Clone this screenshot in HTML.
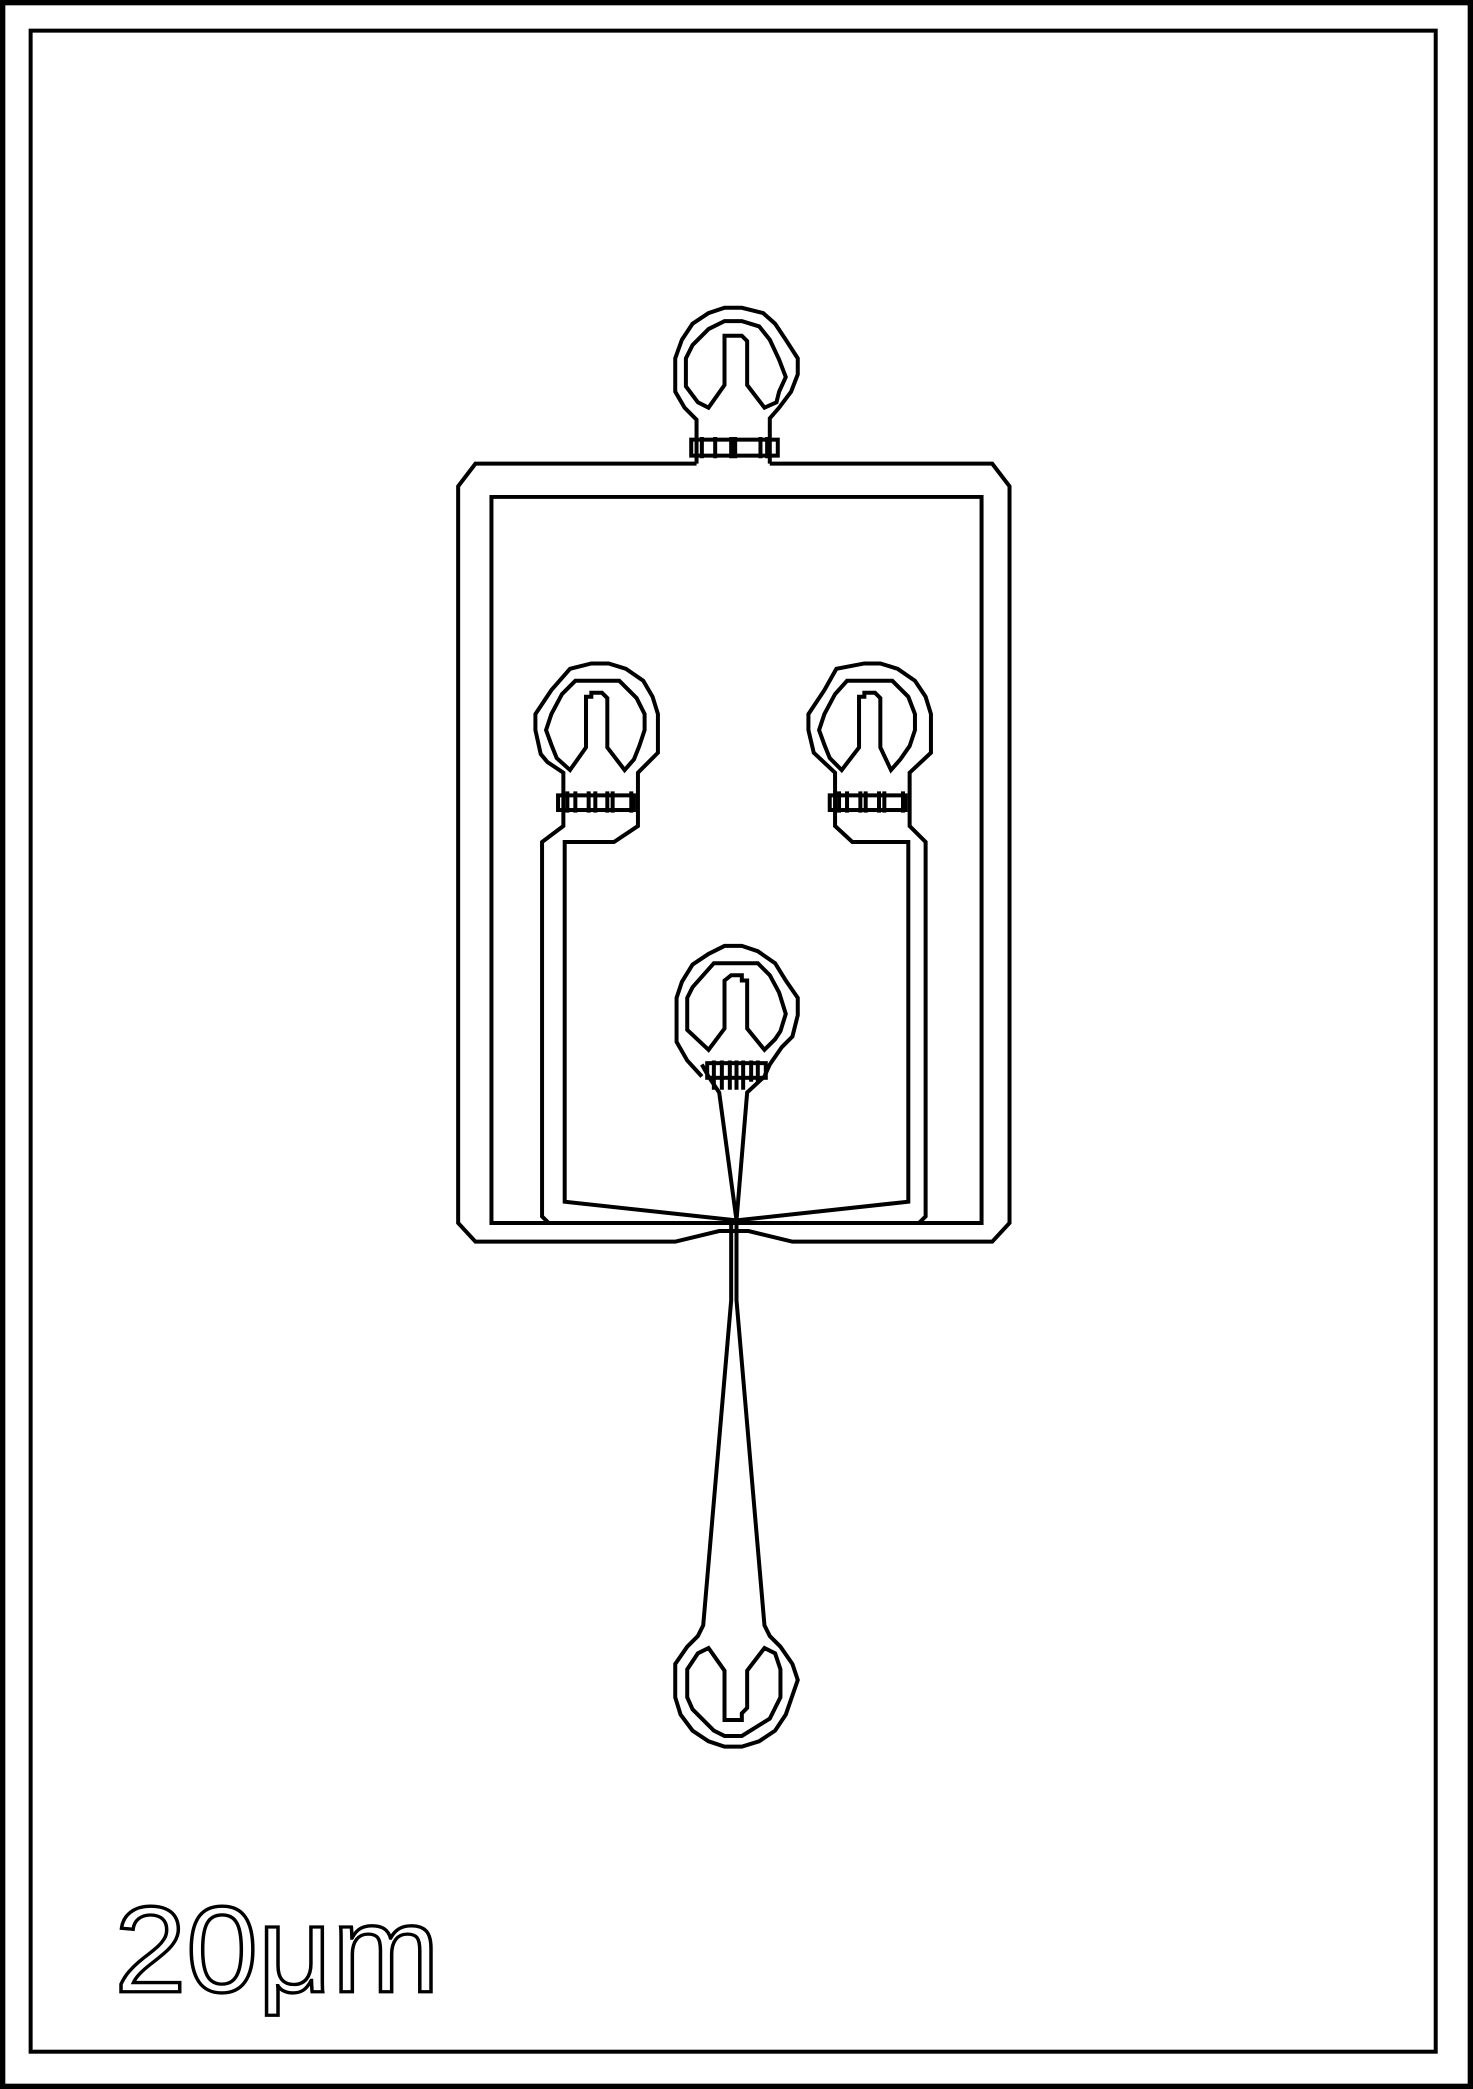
<!DOCTYPE html>
<html><head><meta charset="utf-8"><style>html,body{margin:0;padding:0;background:#fff}svg{display:block}</style></head>
<body>
<svg width="1473" height="2089" viewBox="0 0 1106 1568" preserveAspectRatio="none" xmlns="http://www.w3.org/2000/svg">
<g fill="none" stroke="#000" stroke-width="3" stroke-linejoin="miter">
<rect x="2" y="2" width="1102" height="1564" stroke-width="4"/>
<rect x="23" y="23" width="1055" height="1517"/>
<!-- top pad -->
<path d="M523,348 L523,315 L514,306 L507,294 L507,269 L512,255 L520,243 L532,235 L544,231 L557,231 L573,235 L582,243 L590,255 L599,269 L599,281 L594,294 L585,306 L578,314 L578,348"/>
<path d="M532,306 L524,302 L515,290 L515,269 L520,259 L532,247 L544,241 L557,241 L570,245 L578,255 L585,270 L590,283 L585,294 L583,302 L574,306 L561,289 L561,256 L557,252 L544,252 L544,289 Z"/>
<rect x="519" y="330" width="65" height="12"/>
<path d="M527,328 V344 M537,328 V344 M549,328 V344 M552,328 V344 M571,328 V344 M576,328 V344"/>
<!-- frame -->
<path d="M523,348 L357,348 L344,365 L344,918 L357,932 L507,932 L540,924 L553,924 L562,924 L595,932 L745,932 L758,918 L758,365 L745,348 L578,348"/>
<path d="M369,918 L369,373 L737,373 L737,918 Z"/>
<!-- left pad -->
<path d="M423,605 L423,580 L411,572 L406,566 L402,548 L402,536 L414,518 L428,502 L444,498 L457,498 L470,502 L483,511 L490,523 L494,536 L494,565 L479,580 L479,620 L461,632 L424,632 L424,902 L553,916"/>
<path d="M423,605 L423,620 L407,632 L407,913 L412,918"/>
<path d="M428,578 L418,569 L414,559 L410,548 L414,536 L422,521 L432,511 L465,511 L478,524 L484,536 L484,548 L480,560 L476,570 L469,578 L456,561 L456,524 L452,520 L444,520 L444,523 L440,523 L440,561 Z"/>
<rect x="419" y="597" width="57" height="11"/>
<path d="M426,594 V610 M432,594 V610 M442,594 V610 M447,594 V610 M456,594 V610 M460,594 V610 M474,594 V610"/>
<!-- right pad -->
<path d="M627,605 L627,580 L611,565 L607,548 L607,536 L619,518 L628,502 L649,498 L661,498 L674,502 L687,511 L695,523 L699,536 L699,565 L683,580 L683,620 L695,632 L695,913 L690,918"/>
<path d="M627,605 L627,620 L640,632 L682,632 L682,902 L553,916"/>
<path d="M632,578 L623,569 L619,559 L615,548 L619,536 L627,521 L636,511 L670,511 L682,523 L687,536 L687,548 L683,560 L676,570 L669,578 L661,561 L661,524 L657,520 L649,520 L649,523 L645,523 L645,561 Z"/>
<rect x="623" y="597" width="57" height="11"/>
<path d="M630,594 V610 M636,594 V610 M646,594 V610 M650,594 V610 M660,594 V610 M664,594 V610 M678,594 V610"/>
<!-- center pad -->
<path d="M527,808 L516,796 L508,782 L508,749 L512,737 L520,724 L532,716 L544,710 L557,710 L569,714 L582,723 L590,736 L599,749 L599,762 L595,778 L587,786 L578,799 L574,808 L561,820 L553,916 L540,820 L532,808 L527,799"/>
<path d="M532,788 L516,773 L516,749 L520,741 L536,723 L569,723 L578,732 L585,745 L590,761 L586,774 L582,780 L574,788 L561,772 L561,736 L557,736 L557,732 L549,732 L544,736 L544,772 Z"/>
<rect x="531" y="798" width="44" height="11"/>
<path d="M536,796 V818 M542,796 V818 M548,796 V818 M553,796 V818 M558,796 V818 M564,796 V812 M569,796 V812"/>
<!-- stem -->
<path d="M549,918 L549,976 L528,1220 L524,1228 L516,1236 L507,1249 L507,1274 L511,1287 L520,1299 L532,1307 L544,1311 L557,1311 L570,1307 L582,1299 L590,1287 L599,1261 L595,1249 L586,1236 L578,1228 L574,1220 L553,976 L553,918"/>
<path d="M532,1237 L524,1241 L516,1253 L516,1274 L520,1283 L536,1299 L544,1303 L557,1303 L578,1290 L586,1274 L586,1253 L582,1241 L574,1237 L561,1254 L561,1282 L557,1286 L557,1291 L544,1291 L544,1254 Z"/>
</g>
<text x="86" y="1495" font-family="Liberation Sans, DejaVu Sans, sans-serif" font-size="92" fill="none" stroke="#000" stroke-width="2.5" textLength="244" lengthAdjust="spacingAndGlyphs">20μm</text>
</svg>
</body></html>
